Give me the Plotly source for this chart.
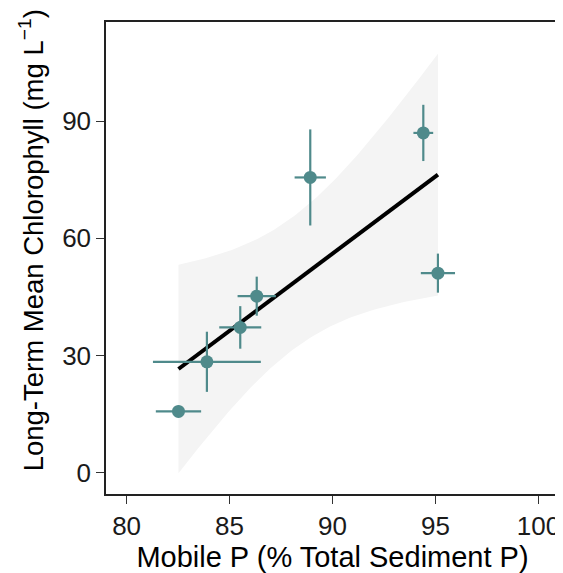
import numpy as np
import plotly.graph_objects as go

# site means with +/- errors
mobile_p = [82.52, 83.90, 85.52, 86.32, 88.92, 94.41, 95.12]
mobile_p_err = [1.10, 2.62, 1.02, 0.93, 0.76, 0.48, 0.83]
chl = [15.7, 28.4, 37.2, 45.2, 75.6, 87.0, 51.1]
chl_err = [1.5, 7.7, 5.45, 5.0, 12.3, 7.2, 5.0]

x_ticks = [80, 85, 90, 95, 100]
y_ticks = [0, 30, 60, 90]

POINT_COL = '#4F8A8B'
FONT = 'Liberation Sans, Arial, sans-serif'

# linear fit with 95% confidence band (like geom_smooth(method='lm'))
x = np.array(mobile_p)
y = np.array(chl)
n = len(x)
slope, intercept = np.polyfit(x, y, 1)
resid = y - (slope * x + intercept)
s = np.sqrt(np.sum(resid ** 2) / (n - 2))
sxx = np.sum((x - x.mean()) ** 2)
t_crit = 2.5706  # t(0.975, df=5)
xs = np.linspace(x.min(), x.max(), 80)
fit = slope * xs + intercept
half = t_crit * s * np.sqrt(1 / n + (xs - x.mean()) ** 2 / sxx)

fig = go.Figure()
fig.add_trace(go.Scatter(
    x=np.concatenate([xs, xs[::-1]]),
    y=np.concatenate([fit + half, (fit - half)[::-1]]),
    fill='toself', fillcolor='#F4F4F4', line={'width': 0},
    mode='lines', hoverinfo='skip', showlegend=False
))
fig.add_trace(go.Scatter(
    x=xs, y=fit, mode='lines',
    line={'color': 'black', 'width': 4},
    showlegend=False
))
fig.add_trace(go.Scatter(
    x=mobile_p, y=chl, mode='markers',
    marker={'color': POINT_COL, 'size': 13},
    error_x={'type': 'data', 'array': mobile_p_err, 'color': POINT_COL, 'thickness': 2.2, 'width': 0},
    error_y={'type': 'data', 'array': chl_err, 'color': POINT_COL, 'thickness': 2.2, 'width': 0},
    showlegend=False
))

axis_common = dict(
    showgrid=False, zeroline=False, automargin=False,
    showline=True, linecolor='#222222', linewidth=1.5, mirror=True,
    ticks='outside', ticklen=8, tickwidth=1.2, tickcolor='#333333',
    tickfont={'size': 26, 'color': '#1a1a1a', 'family': FONT},
)
fig.update_xaxes(
    range=[79, 101], tickvals=x_ticks,
    title={'text': 'Mobile P (% Total Sediment P)', 'font': {'size': 29, 'color': 'black', 'family': FONT}, 'standoff': 0},
    **axis_common
)
fig.update_yaxes(range=[-5.45, 115.4], tickvals=y_ticks, **axis_common)

# y title as an annotation so it can sit a bit above the panel centre, like the original
fig.add_annotation(
    text='Long-Term Mean Chlorophyll (mg L<sup>\u22121</sup>)',
    xref='paper', yref='paper', x=-0.165, y=0.538,
    xanchor='center', yanchor='middle', textangle=-90, showarrow=False,
    font={'size': 27.5, 'color': 'black', 'family': FONT}
)

# page body adds an 8px offset, so the figure is 8px smaller than the window
fig.update_layout(
    width=555, height=565,
    margin={'l': 98, 'r': 4, 't': 14, 'b': 79},
    plot_bgcolor='white', paper_bgcolor='white',
    font={'family': FONT},
)
fig.write_html("out.html")
